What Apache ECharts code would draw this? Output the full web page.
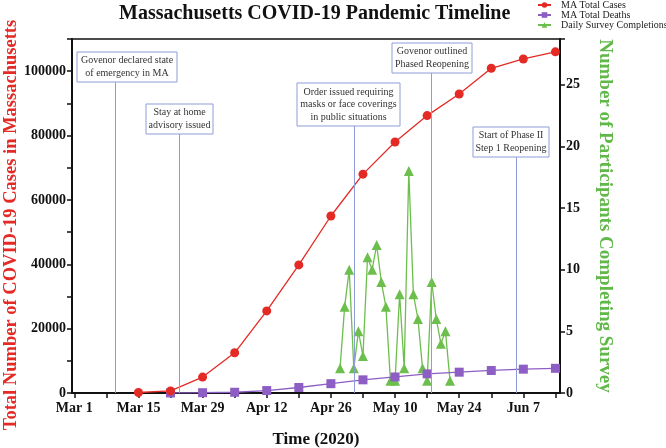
<!DOCTYPE html>
<html>
<head>
<meta charset="utf-8">
<script src="https://cdn.jsdelivr.net/npm/echarts@6/dist/echarts.min.js"></script>
<style>
  html, body { margin: 0; padding: 0; background: #fff; }
  #main { width: 666px; height: 448px; }
</style>
</head>
<body>
<div id="main"></div>
<script>
// days counted from Mar 1 2020 (day 0)
const xTickDays = [0, 7, 14, 21, 28, 35, 42, 49, 56, 63, 70, 77, 84, 91, 98, 105];
const xLabelDays = [0, 14, 28, 42, 56, 70, 84, 98];
const xLabelText = ['Mar 1', 'Mar 15', 'Mar 29', 'Apr 12', 'Apr 26', 'May 10', 'May 24', 'Jun 7'];

const caseDays = [14, 21, 28, 35, 42, 49, 56, 63, 70, 77, 84, 91, 98, 105];
const cases = [150, 650, 4950, 12500, 25500, 39800, 55000, 68000, 78000, 86200, 92900, 100900, 103800, 106000];

const deathDays = [21, 28, 35, 42, 49, 56, 63, 70, 77, 84, 91, 98, 105];
const deaths = [10, 90, 230, 760, 1710, 2900, 4090, 4980, 5940, 6470, 7000, 7410, 7670];

const surveyDays = [58, 59, 60, 61, 62, 63, 64, 65, 66, 67, 68, 69, 70, 71, 72, 73, 74, 75, 76, 77, 78, 79, 80, 81, 82];
const surveys = [2, 7, 10, 2, 5, 3, 11, 10, 12, 9, 7, 1, 1, 8, 2, 18, 8, 6, 2, 1, 9, 6, 4, 5, 1];

// timeline events: day, top of the line (left axis value), box text and box
const eventDays = [9, 23, 61, 78, 96.5];
const eventTops = [96600, 80500, 83000, 99400, 73300];
const eventText = [
  'Govenor declared state\nof emergency in MA',
  'Stay at home\nadvisory issued',
  'Order issued requiring\nmasks or face coverings\nin public situations',
  'Govenor outlined\nPhased Reopening',
  'Start of Phase II\nStep 1 Reopening'
];
const eventBoxes = [
  [77, 52, 100, 30],
  [146, 104, 67, 30],
  [297, 83, 103, 43],
  [392, 43, 80, 30],
  [473, 127, 76, 30]
];

const serif = 'Liberation Serif';
const chart = echarts.init(document.getElementById('main'), null, { renderer: 'canvas' });

const pair = (xs, ys) => xs.map((x, i) => [x, ys[i]]);

const boxes = eventBoxes.map((b, i) => ({
  type: 'group',
  z: 100,
  children: [
    {
      type: 'rect',
      shape: { x: b[0], y: b[1], width: b[2], height: b[3] },
      style: { fill: '#fff', stroke: '#8e9dda', lineWidth: 1 }
    },
    {
      type: 'text',
      style: {
        text: eventText[i],
        x: b[0] + b[2] / 2,
        y: b[1] + b[3] / 2,
        align: 'center',
        verticalAlign: 'middle',
        font: '10px "' + serif + '"',
        lineHeight: 12.5,
        fill: '#333'
      }
    }
  ]
}));

// left axis title, sits a little below the plot centre like the original
boxes.push({
  type: 'text',
  x: 11,
  y: 225,
  rotation: Math.PI / 2,
  style: {
    text: 'Total Number of COVID-19 Cases in Massachusetts',
    align: 'center',
    verticalAlign: 'middle',
    font: 'bold 18.5px "' + serif + '"',
    fill: '#e32a25'
  }
});

chart.setOption({
  animation: false,
  backgroundColor: '#fff',
  title: {
    text: 'Massachusetts COVID-19 Pandemic Timeline',
    left: 119,
    top: 4,
    padding: 0,
    textStyle: { fontFamily: serif, fontWeight: 'bold', fontSize: 20, color: '#111' }
  },
  legend: {
    orient: 'vertical',
    left: 537,
    top: 0,
    padding: 0,
    itemWidth: 13,
    itemHeight: 7,
    itemGap: 0,
    textStyle: { fontFamily: serif, fontSize: 10, lineHeight: 10, color: '#222', padding: [0, 0, 0, 5] },
    data: ['MA Total Cases', 'MA Total Deaths', 'Daily Survey Completions']
  },
  grid: {
    left: 72, right: 106, top: 39, bottom: 55,
    outerBoundsMode: 'none',
    show: true, borderColor: '#111', borderWidth: 1.5
  },
  xAxis: {
    type: 'value',
    min: -0.5, max: 106,
    name: 'Time (2020)',
    nameLocation: 'middle',
    nameGap: 38,
    nameTextStyle: { fontFamily: serif, fontWeight: 'bold', fontSize: 17, color: '#111' },
    axisLine: { onZero: false, lineStyle: { color: '#111', width: 2 } },
    axisTick: { length: 5, customValues: xTickDays, lineStyle: { color: '#111', width: 1.5 } },
    axisLabel: {
      customValues: xLabelDays,
      fontFamily: serif, fontWeight: 'bold', fontSize: 14, color: '#111', margin: 8,
      formatter: v => {
        const k = xLabelDays.indexOf(v);
        return k >= 0 ? xLabelText[k] : '';
      }
    },
    splitLine: { show: false }
  },
  yAxis: [
    {
      type: 'value',
      min: 0, max: 110000, interval: 10000,
      axisLine: { show: true, onZero: false, lineStyle: { color: '#111', width: 2 } },
      axisTick: { show: true, length: 5, lineStyle: { color: '#111', width: 1.5 } },
      axisLabel: {
        fontFamily: serif, fontWeight: 'bold', fontSize: 14, color: '#111', margin: 6,
        formatter: v => (v % 20000 === 0 ? String(v) : '')
      },
      splitLine: { show: false }
    },
    {
      type: 'value',
      position: 'right',
      min: 0, max: 28.7, interval: 5,
      name: 'Number of Participants Completing Survey',
      nameLocation: 'middle',
      nameRotate: -90,
      nameGap: 35,
      nameTextStyle: { fontFamily: serif, fontWeight: 'bold', fontSize: 19, color: '#5fb847' },
      axisLine: { show: true, onZero: false, lineStyle: { color: '#111', width: 2 } },
      axisTick: { show: true, length: 5, lineStyle: { color: '#111', width: 1.5 } },
      axisLabel: {
        fontFamily: serif, fontWeight: 'bold', fontSize: 14, color: '#111', margin: 6,
        formatter: v => (v % 5 === 0 ? String(v) : '')
      },
      splitLine: { show: false }
    }
  ],
  series: [
    {
      name: 'MA Total Cases',
      type: 'line',
      data: pair(caseDays, cases),
      symbol: 'circle',
      symbolSize: 9,
      itemStyle: { color: '#e32a25' },
      lineStyle: { color: '#e32a25', width: 1.3 },
      z: 4,
      markLine: {
        silent: true,
        symbol: 'none',
        label: { show: false },
        lineStyle: { color: '#8e9dda', width: 1, type: 'solid' },
        data: eventDays.map((d, i) => [
          { coord: [d, eventTops[i]] },
          { coord: [d, 0] }
        ])
      }
    },
    {
      name: 'MA Total Deaths',
      type: 'line',
      data: pair(deathDays, deaths),
      symbol: 'rect',
      symbolSize: 9,
      itemStyle: { color: '#8d5ec4' },
      lineStyle: { color: '#8d5ec4', width: 1.3 },
      z: 3
    },
    {
      name: 'Daily Survey Completions',
      type: 'line',
      yAxisIndex: 1,
      data: pair(surveyDays, surveys),
      symbol: 'triangle',
      symbolSize: 10,
      itemStyle: { color: '#6cbf4c' },
      lineStyle: { color: '#6cbf4c', width: 1.3 },
      z: 2
    }
  ],
  graphic: boxes
});
</script>
</body>
</html>
